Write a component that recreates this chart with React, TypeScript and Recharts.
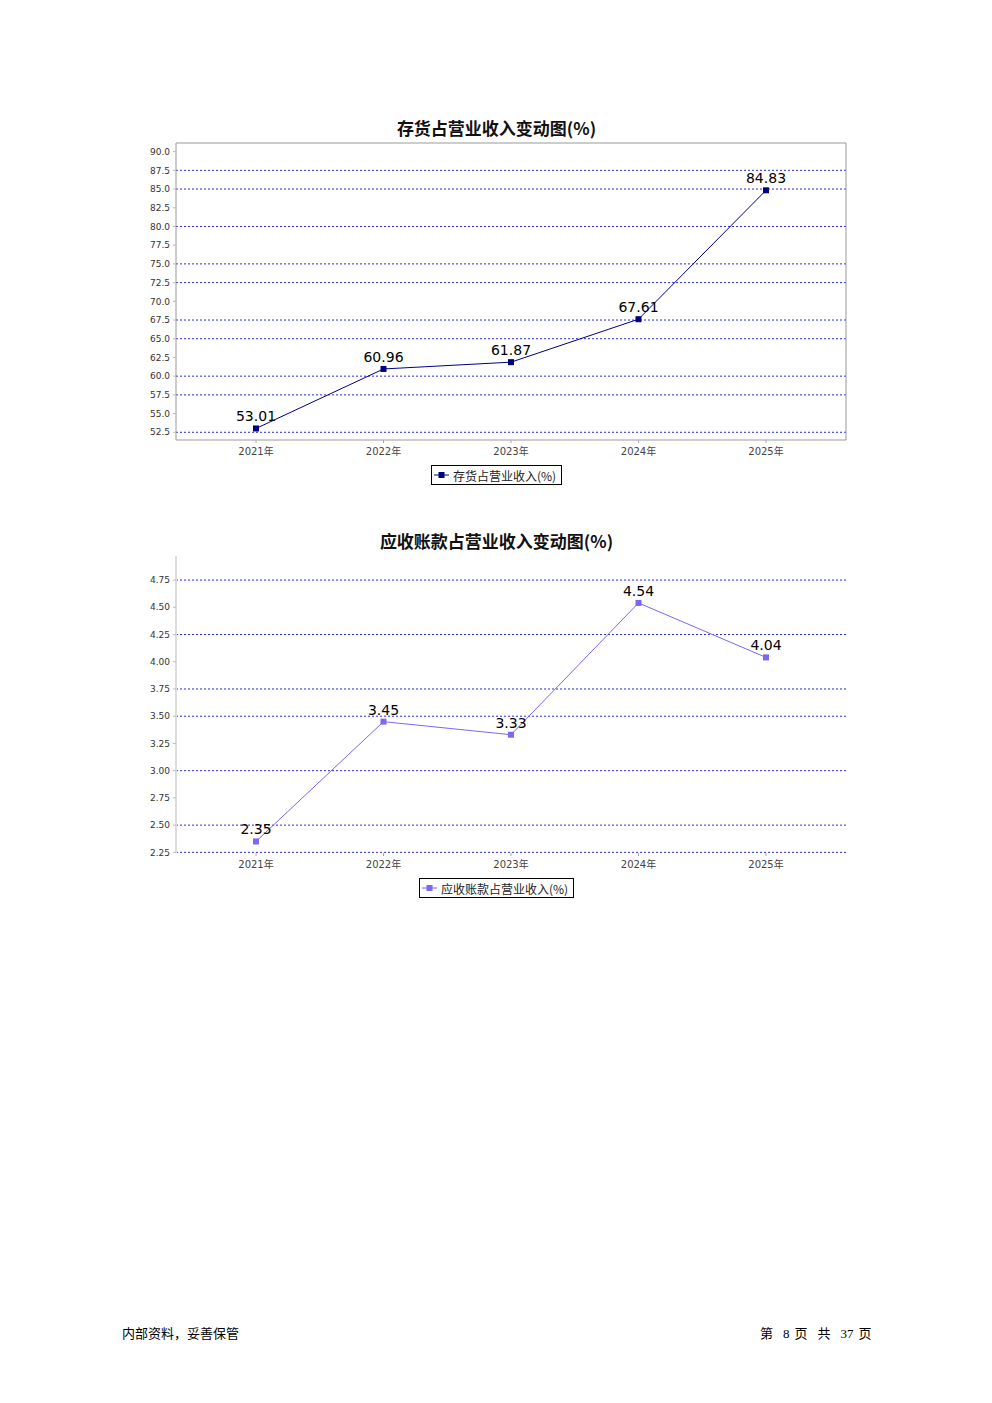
import { LineChart, Line, XAxis, YAxis, CartesianGrid, Legend, LabelList } from "recharts"

const years = ["2021年", "2022年", "2023年", "2024年", "2025年"]
const inventoryRatio = [53.01, 60.96, 61.87, 67.61, 84.83]
const receivableRatio = [2.35, 3.45, 3.33, 4.54, 4.04]

const inventoryTicks = [52.5, 55, 57.5, 60, 62.5, 65, 67.5, 70, 72.5, 75, 77.5, 80, 82.5, 85, 87.5, 90]
const inventoryGrid = [52.5, 57.5, 60, 65, 67.5, 72.5, 75, 80, 85, 87.5]
const receivableTicks = [2.25, 2.5, 2.75, 3, 3.25, 3.5, 3.75, 4, 4.25, 4.5, 4.75]
const receivableGrid = [2.25, 2.5, 3, 3.5, 3.75, 4.25, 4.75]

const inventoryData = years.map((year, i) => ({ year, value: inventoryRatio[i] }))
const receivableData = years.map((year, i) => ({ year, value: receivableRatio[i] }))

const NAVY = "#000080"
const SLATE = "#7b68ee"
const GRID = "#2b2bef"
const CJK = "'Noto Sans CJK SC', 'DejaVu Sans', sans-serif"
const LATIN = "'DejaVu Sans', 'Noto Sans CJK SC', sans-serif"

const squareDot = (color: string) => (props: any) => {
   const { cx, cy, index } = props
   return <rect key={index} x={cx - 3} y={cy - 3} width={6} height={6} fill={color} />
}

const legendBox = (props: any) => {
   const item = props.payload?.[0]
   if (!item) return null
   return (
      <div style={{ display: "flex", justifyContent: "center" }}>
         <div
            style={{
               border: "1px solid #000",
               height: 20,
               boxSizing: "border-box",
               display: "flex",
               alignItems: "center",
               padding: "0 5px 0 2px",
               fontFamily: CJK,
               fontSize: 12,
               color: "#222",
               background: "#fff",
            }}
         >
            <svg width={15} height={8}>
               <line x1={0} y1={4} x2={15} y2={4} stroke={item.color} />
               <rect x={4.5} y={1} width={6} height={6} fill={item.color} />
            </svg>
            <span style={{ marginLeft: 4 }}>{item.value}</span>
         </div>
      </div>
   )
}

interface ChartProps {
   top: number
   title: string
   name: string
   data: { year: string; value: number }[]
   color: string
   domain: [number, number]
   ticks: number[]
   grid: number[]
   digits: number
   boxed: boolean
}

const W = 713

const RatioChart: React.FC<ChartProps> = ({ top, title, name, data, color, domain, ticks, grid, digits, boxed }) => {
   const axisColor = boxed ? "#999" : "#dcdcdc"
   return (
      <>
         <div
            style={{
               position: "absolute",
               left: 140,
               top: top - 25,
               width: W,
               textAlign: "center",
               fontFamily: CJK,
               fontWeight: "bold",
               fontSize: 17,
               lineHeight: "20px",
               color: "#111",
            }}
         >
            {title}
         </div>
         <div style={{ position: "absolute", left: 140, top: boxed ? top - 6 : top - 5 }}>
            <LineChart
               width={W}
               height={boxed ? 353 : 352}
               data={data}
               margin={{ top: 5, right: boxed ? 6 : 7, bottom: 5, left: 0 }}
            >
               <CartesianGrid
                  vertical={false}
                  horizontalValues={grid}
                  stroke={GRID}
                  strokeDasharray="2 2"
               />
               <XAxis
                  dataKey="year"
                  scale="point"
                  padding={{ left: 80, right: 80 }}
                  height={25}
                  axisLine={boxed ? { stroke: axisColor } : false}
                  tickLine={{ stroke: "#aaa" }}
                  tickSize={3}
                  tickMargin={5}
                  tick={{ fontSize: 10, fill: "#444", fontFamily: LATIN }}
               />
               {boxed && (
                  <XAxis
                     xAxisId="top"
                     dataKey="year"
                     scale="point"
                     orientation="top"
                     height={1}
                     tick={false}
                     tickLine={false}
                     axisLine={{ stroke: axisColor }}
                  />
               )}
               <YAxis
                  width={36}
                  type="number"
                  domain={domain}
                  allowDataOverflow
                  ticks={ticks}
                  interval={0}
                  tickFormatter={(v: number) => v.toFixed(digits)}
                  axisLine={{ stroke: axisColor, strokeWidth: boxed ? 1 : 2 }}
                  tickLine={{ stroke: "#bbb" }}
                  tickSize={3}
                  tickMargin={3}
                  tick={{ fontSize: 9, fill: "#333", fontFamily: LATIN }}
               />
               {boxed && (
                  <YAxis
                     yAxisId="right"
                     orientation="right"
                     type="number"
                     domain={domain}
                     allowDataOverflow
                     width={1}
                     tick={false}
                     tickLine={false}
                     axisLine={{ stroke: axisColor }}
                  />
               )}
               <Legend verticalAlign="bottom" content={legendBox} wrapperStyle={{ left: 0, width: W, bottom: 5 }} />
               <Line
                  type="linear"
                  dataKey="value"
                  name={name}
                  stroke={color}
                  strokeWidth={1}
                  dot={squareDot(color)}
                  activeDot={false}
                  isAnimationActive={false}
               >
                  <LabelList
                     dataKey="value"
                     position="top"
                     offset={7}
                     formatter={(v: any) => Number(v).toFixed(2)}
                     style={{ fontSize: 14, fill: "#000", fontFamily: LATIN }}
                  />
               </Line>
            </LineChart>
         </div>
      </>
   )
}

const App = () => {
   return (
      <div
         style={{
            position: "absolute",
            left: 0,
            top: 0,
            width: 992,
            height: 1403,
            background: "#fff",
            overflow: "hidden",
         }}
      >
         <RatioChart
            top={143}
            title="存货占营业收入变动图(%)"
            name="存货占营业收入(%)"
            data={inventoryData}
            color={NAVY}
            domain={[51.47, 91.15]}
            ticks={inventoryTicks}
            grid={inventoryGrid}
            digits={1}
            boxed
         />
         <RatioChart
            top={556}
            title="应收账款占营业收入变动图(%)"
            name="应收账款占营业收入(%)"
            data={receivableData}
            color={SLATE}
            domain={[2.244, 4.971]}
            ticks={receivableTicks}
            grid={receivableGrid}
            digits={2}
            boxed={false}
         />
         <div
            style={{
               position: "absolute",
               left: 122,
               top: 1325,
               fontFamily: CJK,
               fontSize: 13,
               lineHeight: "16px",
               color: "#000",
            }}
         >
            内部资料，妥善保管
         </div>
         <div
            style={{
               position: "absolute",
               left: 760,
               top: 1325,
               fontFamily: "'Liberation Serif', 'Noto Sans CJK SC', serif",
               fontSize: 13,
               lineHeight: "16px",
               color: "#000",
               whiteSpace: "pre",
            }}
         >
            <span style={{ fontFamily: CJK }}>第</span>
            <span style={{ marginLeft: 10 }}>8</span>
            <span style={{ marginLeft: 5, fontFamily: CJK }}>页</span>
            <span style={{ marginLeft: 10, fontFamily: CJK }}>共</span>
            <span style={{ marginLeft: 10 }}>37</span>
            <span style={{ marginLeft: 5, fontFamily: CJK }}>页</span>
         </div>
      </div>
   )
}

export default App
